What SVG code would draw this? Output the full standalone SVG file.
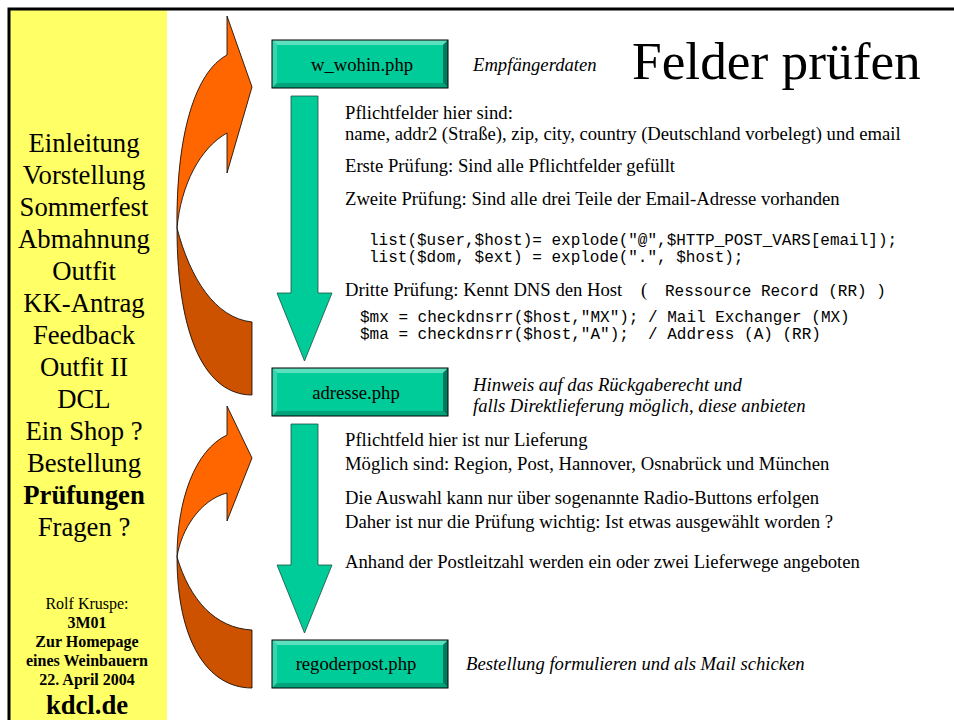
<svg xmlns="http://www.w3.org/2000/svg" width="954" height="720" viewBox="0 0 954 720">
<defs>
<style>
.serif{font-family:"Liberation Serif","Times New Roman",serif;fill:#000}
.menu{font-size:26.67px;text-anchor:middle}
.body{font-size:18.67px}
.it{font-style:italic}
.mono{font-family:"Liberation Mono","Courier New",monospace;font-size:16px;fill:#000;white-space:pre}
.small{font-size:16px;text-anchor:middle}
.b{font-weight:bold}
.face{fill:#00CC99}
.bt{fill:#5CE0BE}
.bl{fill:#33D6AD}
.br{fill:#007A5C}
.bb{fill:#00A37A}
.frame{fill:none;stroke:#000;stroke-width:1}
.shaft{fill:#00CC99;stroke:#1f4f40;stroke-width:0.8}
.orange{fill:#FF6600;stroke:#000;stroke-width:0.8}
.dark{fill:#CC5200;stroke:#000;stroke-width:0.8}
.lbl{font-size:18.67px;text-anchor:middle}
</style>
</defs>
<rect x="0" y="0" width="954" height="720" fill="#fff"/>
<g id="sidebar">
<rect x="10" y="10" width="157" height="710" fill="#FFFF66"/>
<path d="M9,720 L9,9 L954,9" fill="none" stroke="#000" stroke-width="3"/>
<text class="serif menu" x="84" y="152">Einleitung</text>
<text class="serif menu" x="84" y="184">Vorstellung</text>
<text class="serif menu" x="84" y="216">Sommerfest</text>
<text class="serif menu" x="84" y="248">Abmahnung</text>
<text class="serif menu" x="84" y="280">Outfit</text>
<text class="serif menu" x="84" y="312">KK-Antrag</text>
<text class="serif menu" x="84" y="344">Feedback</text>
<text class="serif menu" x="84" y="376">Outfit II</text>
<text class="serif menu" x="84" y="408">DCL</text>
<text class="serif menu" x="84" y="440">Ein Shop ?</text>
<text class="serif menu" x="84" y="472">Bestellung</text>
<text class="serif menu b" x="84" y="504">Prüfungen</text>
<text class="serif menu" x="84" y="536">Fragen ?</text>
<text class="serif small" x="87" y="609">Rolf Kruspe:</text>
<text class="serif small b" x="87" y="628">3M01</text>
<text class="serif small b" x="87" y="647">Zur Homepage</text>
<text class="serif small b" x="87" y="666">eines Weinbauern</text>
<text class="serif small b" x="87" y="685">22. April 2004</text>
<text class="serif menu b" x="87" y="714">kdcl.de</text>
</g>
<g id="title">
<text class="serif" x="632" y="79" font-size="53.33">Felder prüfen</text>
</g>
<g id="connectors">
<path class="dark" d="M177,228 C177,340 207,395 252,395 L252,322 C215,318 190,278 177,228 Z"/>
<path class="orange" d="M252,87 L227,16 L227,55 C195,72 176,135 177,228 C181,185 200,148 227,133 L227,173 Z"/>
<path class="dark" d="M177,557 C177,640 207,688 252,688 L252,630 C215,628 190,600 177,557 Z"/>
<path class="orange" d="M252,458 L227,406 L227,435 C195,450 177,500 177,557 C181,530 200,500 227,493 L227,521 Z"/>
<path class="shaft" d="M291,96 L318,96 L318,293 L332,293 L304.5,361 L277,293 L291,293 Z"/>
<path class="shaft" d="M291,424 L318,424 L318,565 L332,565 L304.5,633 L277,565 L291,565 Z"/>
</g>
<g id="node-wwohin">
<rect class="face" x="272" y="40" width="176" height="48"/>
<polygon class="bt" points="272,40 448,40 443,45 277,45"/>
<polygon class="bl" points="272,40 277,45 277,83 272,88"/>
<polygon class="br" points="448,40 448,88 443,83 443,45"/>
<polygon class="bb" points="272,88 277,83 443,83 448,88"/>
<rect class="frame" x="272" y="40" width="176" height="48"/>
<text class="serif lbl" x="362" y="71">w_wohin.php</text>
</g>
<g id="node-adresse">
<rect class="face" x="272" y="368" width="176" height="48"/>
<polygon class="bt" points="272,368 448,368 443,373 277,373"/>
<polygon class="bl" points="272,368 277,373 277,411 272,416"/>
<polygon class="br" points="448,368 448,416 443,411 443,373"/>
<polygon class="bb" points="272,416 277,411 443,411 448,416"/>
<rect class="frame" x="272" y="368" width="176" height="48"/>
<text class="serif lbl" x="356" y="399">adresse.php</text>
</g>
<g id="node-regoderpost">
<rect class="face" x="272" y="640" width="176" height="48"/>
<polygon class="bt" points="272,640 448,640 443,645 277,645"/>
<polygon class="bl" points="272,640 277,645 277,683 272,688"/>
<polygon class="br" points="448,640 448,688 443,683 443,645"/>
<polygon class="bb" points="272,688 277,683 443,683 448,688"/>
<rect class="frame" x="272" y="640" width="176" height="48"/>
<text class="serif lbl" x="356" y="670">regoderpost.php</text>
</g>
<g id="notes">
<text class="serif body it" x="473" y="71">Empfängerdaten</text>
<text class="serif body" x="345" y="119">Pflichtfelder hier sind:</text>
<text class="serif body" x="345" y="140">name, addr2 (Straße), zip, city, country (Deutschland vorbelegt) und email</text>
<text class="serif body" x="345" y="172">Erste Prüfung: Sind alle Pflichtfelder gefüllt</text>
<text class="serif body" x="345" y="205">Zweite Prüfung: Sind alle drei Teile der Email-Adresse vorhanden</text>
<text class="mono" x="369" y="245">list($user,$host)= explode("@",$HTTP_POST_VARS[email]);</text>
<text class="mono" x="369" y="262">list($dom, $ext) = explode(".", $host);</text>
<text class="serif body" x="345" y="296">Dritte Prüfung: Kennt DNS den Host</text>
<text class="serif body" x="641" y="296">(</text>
<text class="mono" x="665" y="296" font-size="14">Ressource Record (RR) )</text>
<text class="mono" x="360" y="322">$mx = checkdnsrr($host,"MX"); / Mail Exchanger (MX)</text>
<text class="mono" x="360" y="339">$ma = checkdnsrr($host,"A");  / Address (A) (RR)</text>
<text class="serif body it" x="473" y="391">Hinweis auf das Rückgaberecht und</text>
<text class="serif body it" x="473" y="412">falls Direktlieferung möglich, diese anbieten</text>
<text class="serif body" x="345" y="446">Pflichtfeld hier ist nur Lieferung</text>
<text class="serif body" x="345" y="470">Möglich sind: Region, Post, Hannover, Osnabrück und München</text>
<text class="serif body" x="345" y="504">Die Auswahl kann nur über sogenannte Radio-Buttons erfolgen</text>
<text class="serif body" x="345" y="528">Daher ist nur die Prüfung wichtig: Ist etwas ausgewählt worden ?</text>
<text class="serif body" x="345" y="568">Anhand der Postleitzahl werden ein oder zwei Lieferwege angeboten</text>
<text class="serif body it" x="466" y="670">Bestellung formulieren und als Mail schicken</text>
</g>
</svg>
